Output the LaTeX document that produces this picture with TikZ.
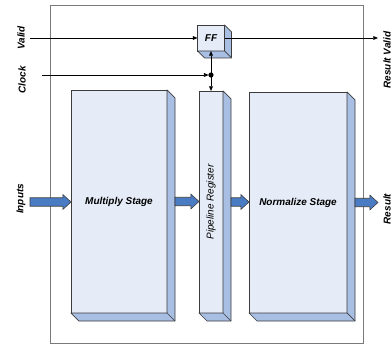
\documentclass[tikz,border=0pt]{standalone}
\usepackage{fontspec}
\setsansfont{Liberation Sans}
\usetikzlibrary{positioning,calc,arrows.meta}

\definecolor{facefill}{HTML}{E6ECF7}
\definecolor{sidefill}{HTML}{A8BFE3}
\definecolor{flowblue}{HTML}{4A7CC4}
\definecolor{edgegray}{HTML}{3C3C3C}
\definecolor{framegray}{HTML}{7A7A7A}

% right and bottom faces of a block
\newcommand{\blockside}[2]{%
    \filldraw[side] (#1.north east) -- ++(#2,#2) -- ($(#1.south east)+(#2,#2)$) -- ($(#1.south west)+(#2,#2)$) -- (#1.south west) -- (#1.south east) -- cycle;
    \draw[side] (#1.south east) -- ++(#2,#2);
}

\begin{document}
\begin{tikzpicture}[
        x=0.03cm, y=-0.03cm,
        block/.style={draw=edgegray, fill=facefill, rectangle, line width=0.6pt, inner sep=0pt, outer sep=0pt, font=\sffamily\bfseries\itshape\fontsize{8.5}{10}\selectfont},
        side/.style={draw=edgegray, fill=sidefill, line width=0.6pt, line join=round},
        lbl/.style={rotate=90, inner sep=0pt, font=\sffamily\bfseries\itshape\fontsize{8.5}{10}\selectfont},
        wire/.style={-{Triangle[length=4pt,width=3.2pt]}, line width=0.6pt},
        fatarrow/.style={draw=edgegray, fill=flowblue, line width=0.5pt, line join=miter,
            to path={let \p1=(\tikztostart), \p2=(\tikztotarget) in
                (\x1,\y1+3.6pt) -- (\x2-7pt,\y1+3.6pt) -- (\x2-7pt,\y1+6.4pt) -- (\x2,\y1)
                -- (\x2-7pt,\y1-6.4pt) -- (\x2-7pt,\y1-3.6pt) -- (\x1,\y1-3.6pt) -- cycle}}
    ]
        \useasboundingbox (0,0) rectangle (391,349);

        % Outer frame
        \draw[framegray, line width=0.8pt] (50,5) rectangle (363,343);

        % Stages
        \node[block, minimum width=2.88cm, minimum height=6.69cm] (mul) at (119,201.5) {Multiply Stage};
        \node[block, minimum width=0.72cm, minimum height=6.66cm, label={[lbl, font=\sffamily\itshape\fontsize{8.5}{10}\selectfont]center:Pipeline Register}] (reg) at (211,202) {};
        \node[block, minimum width=2.94cm, minimum height=6.63cm] (norm) at (298,202.5) {Normalize Stage};
        \node[block, minimum width=0.81cm, minimum height=0.78cm] (ff) at (211,38) {FF};
        \blockside{mul}{8}
        \blockside{reg}{8}
        \blockside{norm}{8}
        \blockside{ff}{7}

        % Data path
        \coordinate (inp) at (30,202);
        \coordinate (res) at (378,203);
        \draw[fatarrow] (inp) to (mul.west);
        \draw[fatarrow] ($(mul.east)+(8,0)$) to (reg.west);
        \draw[fatarrow] ($(reg.east)+(8,0)$) to (norm.west);
        \draw[fatarrow] ($(norm.east)+(8,0)$) to (res);

        % Control signals
        \coordinate (vin) at (30,38);
        \coordinate (vout) at (378,38);
        \coordinate (cin) at (42,75);
        \coordinate (clk) at (211,75);
        \draw[wire] (vin) -- (ff.west);
        \draw[wire] (ff.east) -- (vout);
        \draw[wire, shorten >=2pt] (cin) -- (clk);
        \draw[wire] (clk) -- (ff.south);
        \draw[wire] (clk) -- (reg.north);
        \fill (clk) circle[radius=2.2pt];

        % Labels
        \node[lbl] (validlbl) at (21,38) {Valid};
        \node[lbl] (clocklbl) at (22,80) {Clock};
        \node[lbl] (inlbl) at (21,199) {Inputs};
        \node[lbl] (rvlbl) at (387,60) {Result Valid};
        \node[lbl] (reslbl) at (387,209) {Result};
    \end{tikzpicture}
\end{document}
